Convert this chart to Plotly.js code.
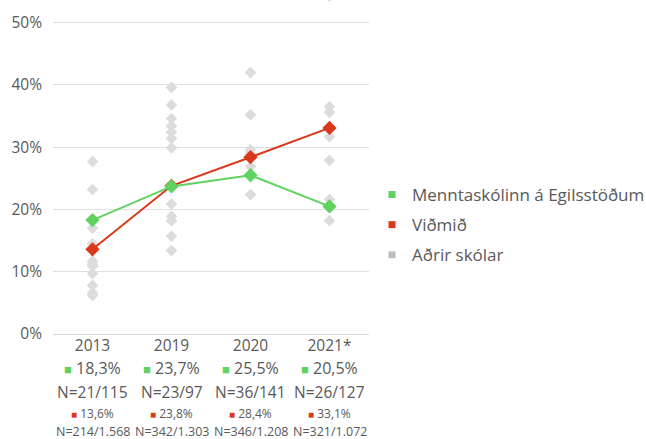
<!DOCTYPE html>
<html>
<head>
<meta charset="utf-8">
<script src="https://cdn.plot.ly/plotly-3.0.1.min.js"></script>
<style>html,body{margin:0;padding:0;background:#fff;}#chart{width:646px;height:439px;}</style>
</head>
<body>
<div id="chart"></div>
<script>
const categories = ['2013', '2019', '2020', '2021*'];
const schoolPct = [18.3, 23.7, 25.5, 20.5];
const schoolN = ['21/115', '23/97', '36/141', '26/127'];
const benchPct = [13.6, 23.8, 28.4, 33.1];
const benchN = ['214/1.568', '342/1.303', '346/1.208', '321/1.072'];
const others2013 = [27.7, 23.2, 17.0, 14.5, 11.7, 11.2, 10.9, 9.7, 7.8, 6.6, 6.2];
const others2019 = [39.6, 36.8, 34.6, 33.4, 32.4, 31.4, 29.9, 20.9, 18.9, 18.2, 15.7, 13.4];
const others2020 = [42.0, 35.2, 29.6, 29.0, 26.9, 22.4];
const others2021 = [54.3, 36.5, 35.6, 31.7, 27.9, 21.6, 18.2];
const seriesNames = ['Menntaskólinn á Egilsstöðum', 'Viðmið', 'Aðrir skólar'];

const GREEN = '#5fd35f', RED = '#d9381a', GRAY = '#dcdcdc', LEG_GRAY = '#bfbfbf', TXT = '#595959';
const FONT = 'Open Sans, sans-serif';

const othersAll = [others2013, others2019, others2020, others2021];
const ox = [], oy = [];
othersAll.forEach((arr, i) => arr.forEach(v => { ox.push(categories[i]); oy.push(v); }));

const fmt = v => v.toFixed(1).replace('.', ',') + '%';

const traces = [
  {x: ox, y: oy, type: 'scatter', mode: 'markers', showlegend: false, hoverinfo: 'y',
   marker: {symbol: 'diamond', size: 9, color: GRAY}},
  {x: categories, y: benchPct, type: 'scatter', mode: 'lines+markers', showlegend: false,
   line: {color: RED, width: 2}, marker: {symbol: 'diamond', size: 11, color: RED}},
  {x: categories, y: schoolPct, type: 'scatter', mode: 'lines+markers', showlegend: false,
   line: {color: GREEN, width: 2}, marker: {symbol: 'diamond', size: 11, color: GREEN}},
  {x: [null], y: [null], type: 'scatter', mode: 'markers', name: seriesNames[0], legendgroup: 'a',
   marker: {symbol: 'square', size: 7, color: GREEN}},
  {x: [null], y: [null], type: 'scatter', mode: 'markers', name: seriesNames[1], legendgroup: 'b',
   marker: {symbol: 'square', size: 7, color: RED}},
  {x: [null], y: [null], type: 'scatter', mode: 'markers', name: seriesNames[2], legendgroup: 'c',
   marker: {symbol: 'square', size: 7, color: LEG_GRAY}}
];

const annotations = [];
const rowY = px => (334 - px) / 334;
categories.forEach((c, i) => {
  annotations.push({x: i, xref: 'x', yref: 'paper', y: rowY(368), yanchor: 'middle', showarrow: false,
    text: '<span style="color:' + GREEN + ';font-size:13px">■</span> ' + fmt(schoolPct[i]),
    font: {family: FONT, size: 16, color: TXT}});
  annotations.push({x: i, xref: 'x', yref: 'paper', y: rowY(391.5), yanchor: 'middle', showarrow: false,
    text: 'N=' + schoolN[i], font: {family: FONT, size: 15.5, color: TXT}});
  annotations.push({x: i, xref: 'x', yref: 'paper', y: rowY(413), yanchor: 'middle', showarrow: false,
    text: '<span style="color:' + RED + ';font-size:10px">■</span> ' + fmt(benchPct[i]),
    font: {family: FONT, size: 12, color: TXT}});
  annotations.push({x: i, xref: 'x', yref: 'paper', y: rowY(431), yanchor: 'middle', showarrow: false,
    text: 'N=' + benchN[i], font: {family: FONT, size: 12.5, color: TXT}});
});

const layout = {
  width: 646, height: 439,
  margin: {l: 53, r: 277, t: 0, b: 105},
  paper_bgcolor: '#fff', plot_bgcolor: '#fff',
  font: {family: FONT, size: 15, color: TXT},
  xaxis: {type: 'category', range: [-0.5, 3.5], showgrid: false, zeroline: false, showline: false,
    ticks: '', tickfont: {family: FONT, size: 15.5, color: TXT}, fixedrange: true},
  yaxis: {range: [0, 53.65], dtick: 10, tick0: 0, ticksuffix: '%', showgrid: true, gridcolor: '#e0e0e0',
    gridwidth: 1, zeroline: true, zerolinecolor: '#d9d9d9', zerolinewidth: 1, showline: false,
    ticks: '', ticklabelstandoff: 10, tickfont: {family: FONT, size: 15.5, color: TXT}, fixedrange: true},
  showlegend: true,
  legend: {xref: 'container', yref: 'container', x: 372 / 646, y: 1 - 177 / 439, xanchor: 'left', yanchor: 'top',
    font: {family: FONT, size: 17, color: TXT}, traceorder: 'grouped', tracegroupgap: 5,
    bgcolor: 'rgba(0,0,0,0)', borderwidth: 0},
  annotations: annotations,
  hovermode: 'closest'
};

Plotly.newPlot('chart', traces, layout, {displayModeBar: false, staticPlot: true});
</script>
</body>
</html>
